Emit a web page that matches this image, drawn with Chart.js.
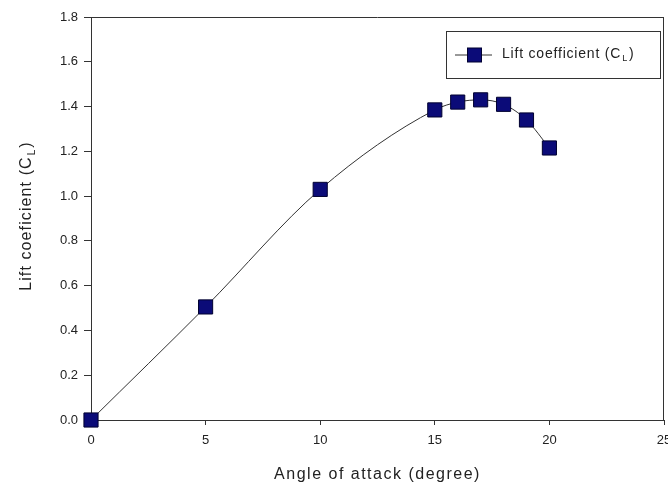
<!DOCTYPE html>
<html><head><meta charset="utf-8">
<script src="https://cdn.jsdelivr.net/npm/chart.js@4/dist/chart.umd.min.js"></script>
<style>html,body{margin:0;padding:0;background:#fff;}#wrap{width:668px;height:488px;}</style>
</head><body><div id="wrap"><canvas id="c" width="668" height="488"></canvas></div>
<script>
const angles = [0, 5, 10, 15, 16, 17, 18, 19, 20];
const liftCoefficient = [0.0, 0.505, 1.03, 1.385, 1.42, 1.43, 1.41, 1.34, 1.215];
const xTicks = [0, 5, 10, 15, 20, 25];
const yTicks = [0, 0.2, 0.4, 0.6, 0.8, 1.0, 1.2, 1.4, 1.6, 1.8];
const seriesName = ['Lift coefficient (C', 'L', ')'];
const yTitle = ['Lift coeficient (C', 'L', ')'];
const xTitle = 'Angle of attack (degree)';

const FONT = '"Liberation Sans", Arial, sans-serif';
const TXT = '#222';

function drawSub(ctx, parts, x, y, size, align, spacing) {
  ctx.letterSpacing = spacing + 'px';
  const big = size + 'px ' + FONT, small = Math.round(size*0.62) + 'px ' + FONT;
  ctx.font = big; const w0 = ctx.measureText(parts[0]).width;
  ctx.font = small; const w1 = ctx.measureText(parts[1]).width;
  ctx.font = big; const w2 = ctx.measureText(parts[2]).width;
  const total = w0 + w1 + 2 + w2;
  let sx = align === 'center' ? x - total/2 : x;
  ctx.textBaseline = 'middle'; ctx.textAlign = 'left';
  ctx.font = big; ctx.fillText(parts[0], sx, y);
  ctx.font = small; ctx.fillText(parts[1], sx + w0 + 1, y + size*0.3);
  ctx.font = big; ctx.fillText(parts[2], sx + w0 + w1 + 2, y);
  ctx.letterSpacing = '0px';
}

const decor = {
  id: 'decor',
  afterDraw(chart) {
    const ctx = chart.ctx, a = chart.chartArea;
    ctx.save();
    ctx.strokeStyle = '#333'; ctx.lineWidth = 1;
    ctx.beginPath();
    ctx.moveTo(a.left, a.top + 0.5); ctx.lineTo(a.right, a.top + 0.5);
    ctx.moveTo(a.right - 0.5, a.top); ctx.lineTo(a.right - 0.5, a.bottom);
    ctx.stroke();
    // titles
    ctx.fillStyle = TXT;
    ctx.font = '16px ' + FONT; ctx.textAlign = 'center'; ctx.textBaseline = 'middle';
    ctx.letterSpacing = '1.5px';
    ctx.fillText(xTitle, (a.left + a.right)/2, 475);
    ctx.letterSpacing = '0px';
    ctx.save();
    ctx.translate(27, 216); ctx.rotate(-Math.PI/2);
    drawSub(ctx, yTitle, 0, 0, 16, 'center', 1.1);
    ctx.restore();
    // legend
    const lx = 446, ly = 31, lw = 214, lh = 47;
    ctx.fillStyle = '#fff'; ctx.fillRect(lx, ly, lw, lh);
    ctx.strokeStyle = '#333'; ctx.strokeRect(lx + 0.5, ly + 0.5, lw, lh);
    const cy = ly + lh/2 + 0.5;
    ctx.beginPath(); ctx.moveTo(455, cy); ctx.lineTo(492, cy); ctx.stroke();
    ctx.fillStyle = '#0b0b78'; ctx.fillRect(467.5, cy - 7, 14, 14);
    ctx.strokeStyle = '#000030'; ctx.strokeRect(467.5, cy - 7, 14, 14);
    ctx.fillStyle = TXT;
    drawSub(ctx, seriesName, 502, cy - 1, 14, 'left', 0.8);
    ctx.restore();
  }
};

new Chart(document.getElementById('c'), {
  type: 'scatter',
  data: {
    datasets: [{
      label: seriesName.join(''),
      data: angles.map((a, i) => ({x: a, y: liftCoefficient[i]})),
      showLine: true,
      borderColor: '#333',
      borderWidth: 1,
      cubicInterpolationMode: 'monotone',
      pointStyle: 'rect',
      pointRadius: 10,
      pointHoverRadius: 10,
      pointBackgroundColor: '#0b0b78',
      pointBorderColor: '#000030',
      pointBorderWidth: 1,
      clip: false
    }]
  },
  options: {
    responsive: false,
    animation: false,
    devicePixelRatio: 1,
    layout: { autoPadding: false, padding: { top: 17, right: 4, left: 0, bottom: 0 } },
    plugins: { legend: { display: false }, tooltip: { enabled: false } },
    scales: {
      x: {
        type: 'linear', min: 0, max: 25,
        afterBuildTicks: s => { s.ticks = xTicks.map(v => ({value: v})); },
        afterFit: s => { s.height = 68; s.paddingLeft = 0; s.paddingRight = 0; },
        grid: { display: true, drawOnChartArea: false, drawTicks: true, tickLength: 5, color: '#333' },
        border: { display: true, color: '#333', width: 1 },
        ticks: { padding: 8, color: TXT, font: { family: FONT, size: 13 }, maxRotation: 0, autoSkip: false }
      },
      y: {
        type: 'linear', min: 0, max: 1.8,
        afterBuildTicks: s => { s.ticks = yTicks.map(v => ({value: v})); },
        afterFit: s => { s.width = 91; s.paddingTop = 0; s.paddingBottom = 0; },
        grid: { display: true, drawOnChartArea: false, drawTicks: true, tickLength: 7, color: '#333' },
        border: { display: true, color: '#333', width: 1 },
        ticks: { padding: 6, color: TXT, font: { family: FONT, size: 13 }, callback: v => v.toFixed(1) }
      }
    }
  },
  plugins: [decor]
});
</script></body></html>
